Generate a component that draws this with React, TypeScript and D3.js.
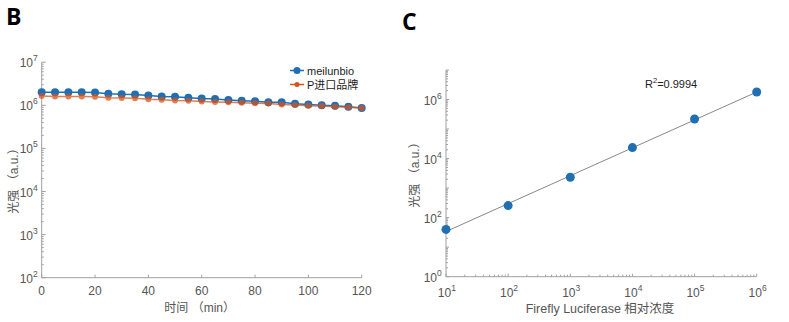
import React from "react";
import * as d3 from "d3";

const times = [0,5,10,15,20,25,30,35,40,45,50,55,60,65,70,75,80,85,90,95,100,105,110,115,120];
const meilunbio = [2.01e6,2.0e6,2.0e6,2.0e6,1.97e6,1.85e6,1.8e6,1.78e6,1.68e6,1.6e6,1.58e6,1.5e6,1.43e6,1.4e6,1.33e6,1.28e6,1.24e6,1.17e6,1.17e6,1.09e6,1.05e6,1.0e6,0.97e6,0.93e6,0.87e6];
const imported = [1.65e6,1.6e6,1.6e6,1.6e6,1.58e6,1.5e6,1.48e6,1.46e6,1.38e6,1.35e6,1.3e6,1.28e6,1.22e6,1.2e6,1.17e6,1.15e6,1.12e6,1.1e6,1.05e6,1.02e6,0.98e6,0.96e6,0.92e6,0.9e6,0.86e6];
const seriesNames = ["meilunbio", "P进口品牌"];
const timeTicks = [0,20,40,60,80,100,120];
const leftYExps = [2,3,4,5,6,7];

const conc = [1e1,1e2,1e3,1e4,1e5,1e6];
const lightC = [40,256,2340,23600,2.2e5,1.8e6];
const rightXExps = [1,2,3,4,5,6];
const rightYExps = [0,2,4,6];
const r2Label = "R";
const r2Value = "=0.9994";

const BLUE = "#1f6fb2";
const ORANGE = "#d95319";
const AXIS = "#a0a0a0";
const TXT = "#555";
const LATIN = "'Liberation Sans', Arial, sans-serif";
const CJK = "'Liberation Sans', 'Noto Sans CJK SC', sans-serif";

function minorValues(lo: number, hi: number) {
  const out: number[] = [];
  for (let e = lo; e < hi; e++) for (let m = 2; m <= 9; m++) out.push(m * Math.pow(10, e));
  return out;
}

function Pow({ x, y, exp, anchor }: { x: number; y: number; exp: number; anchor: "end" | "middle" }) {
  const baseW = 13.3;
  const supW = 5;
  let bx = x;
  if (anchor === "end") bx = x - supW - baseW;
  else bx = x - (baseW + supW) / 2;
  return (
    <text x={bx} y={y} fontFamily={LATIN} fontSize={12} fill={TXT}>
      10<tspan dy={-6} fontSize={8.5}>{exp}</tspan>
    </text>
  );
}

export default function App() {
  const lx = d3.scaleLinear().domain([0, 120]).range([41.7, 361.7]);
  const ly = d3.scaleLog().domain([1e2, 1e7]).range([277.7, 62.2]);
  const lineL = d3.line<number>().x((_, i) => lx(times[i])).y((d) => ly(d));

  const rx = d3.scaleLog().domain([1e1, 1e6]).range([446, 756.7]);
  const ry = d3.scaleLog().domain([1, 1e7]).range([276.7, 70]);
  const lxs = conc.map(Math.log10);
  const lys = lightC.map(Math.log10);
  const mx = d3.mean(lxs)!;
  const my = d3.mean(lys)!;
  const slope = d3.sum(lxs.map((v, i) => (v - mx) * (lys[i] - my))) / d3.sum(lxs.map((v) => (v - mx) ** 2));
  const inter = my - slope * mx;
  const fit = (x: number) => Math.pow(10, inter + slope * Math.log10(x));

  return (
    <svg width={789} height={322} style={{ position: "absolute", left: 0, top: 0, background: "#fff" }}>
      <rect width={789} height={322} fill="#fff" />
      <text x={6} y={25} fontFamily="'Open Sans', 'Liberation Sans', sans-serif" fontWeight="bold" fontSize={23} fill="#000">B</text>
      <text x={402} y={30} fontFamily="'Open Sans', 'Liberation Sans', sans-serif" fontWeight="bold" fontSize={23} fill="#000">C</text>

      <g>
        <line x1={lx(0)} x2={lx(0)} y1={ly(1e7)} y2={ly(1e2)} stroke={AXIS} strokeWidth={1} />
        <line x1={lx(0)} x2={lx(120)} y1={ly(1e2)} y2={ly(1e2)} stroke={AXIS} strokeWidth={1} />
        {leftYExps.map((e) => (
          <g key={"ly" + e}>
            <line x1={lx(0)} x2={lx(0) + 4} y1={ly(10 ** e)} y2={ly(10 ** e)} stroke={AXIS} />
            <Pow x={38} y={ly(10 ** e) + 5} exp={e} anchor="end" />
          </g>
        ))}
        {minorValues(2, 7).map((v, i) => (
          <line key={"lm" + i} x1={lx(0)} x2={lx(0) + 2} y1={ly(v)} y2={ly(v)} stroke={AXIS} />
        ))}
        {timeTicks.map((t) => (
          <g key={"lt" + t}>
            <line x1={lx(t)} x2={lx(t)} y1={ly(1e2)} y2={ly(1e2) - 3} stroke={AXIS} />
            <text x={lx(t)} y={295} textAnchor="middle" fontFamily={LATIN} fontSize={12} fill={TXT}>{t}</text>
          </g>
        ))}
        <text x={lx(60) - 2} y={312} textAnchor="middle" fontFamily={CJK} fontSize={12} fill={TXT}>时间 （min）</text>
        <text transform={`translate(18,178) rotate(-90)`} textAnchor="middle" fontFamily={CJK} fontSize={12} fill={TXT}>光强 （a.u.）</text>

        <path d={lineL(meilunbio) || ""} fill="none" stroke={BLUE} strokeWidth={1.5} />
        {meilunbio.map((v, i) => (
          <circle key={"bm" + i} cx={lx(times[i])} cy={ly(v)} r={4} fill={BLUE} />
        ))}
        <g opacity={0.75}>
          <path d={lineL(imported) || ""} fill="none" stroke={ORANGE} strokeWidth={1.5} />
          {imported.map((v, i) => (
            <circle key={"om" + i} cx={lx(times[i])} cy={ly(v)} r={3} fill={ORANGE} />
          ))}
        </g>

        <line x1={290} x2={304} y1={70.5} y2={70.5} stroke={BLUE} strokeWidth={1.5} />
        <circle cx={297} cy={70.5} r={3.5} fill={BLUE} />
        <text x={307} y={74.5} fontFamily={LATIN} fontSize={11} fill="#222">{seriesNames[0]}</text>
        <line x1={290} x2={304} y1={84.5} y2={84.5} stroke={ORANGE} strokeWidth={1.5} />
        <circle cx={297} cy={84.5} r={2.5} fill={ORANGE} />
        <text x={307} y={88.5} fontFamily={CJK} fontSize={11} fill="#222">{seriesNames[1]}</text>
      </g>

      <g>
        <line x1={rx(10)} x2={rx(10)} y1={ry(1e7)} y2={ry(1)} stroke={AXIS} strokeWidth={1} />
        <line x1={rx(10)} x2={rx(1e6)} y1={ry(1)} y2={ry(1)} stroke={AXIS} strokeWidth={1} />
        {d3.range(0, 8).map((e) => (
          <line key={"rym" + e} x1={rx(10)} x2={rx(10) + 3} y1={ry(10 ** e)} y2={ry(10 ** e)} stroke={AXIS} />
        ))}
        {minorValues(0, 7).map((v, i) => (
          <line key={"rymn" + i} x1={rx(10)} x2={rx(10) + 2} y1={ry(v)} y2={ry(v)} stroke={AXIS} />
        ))}
        {rightYExps.map((e) => (
          <Pow key={"ryl" + e} x={442} y={ry(10 ** e) + 5} exp={e} anchor="end" />
        ))}
        {rightXExps.map((e) => (
          <g key={"rx" + e}>
            <line x1={rx(10 ** e)} x2={rx(10 ** e)} y1={ry(1)} y2={ry(1) - 3} stroke={AXIS} />
            <Pow x={rx(10 ** e) + 1} y={297} exp={e} anchor="middle" />
          </g>
        ))}
        {minorValues(1, 6).map((v, i) => (
          <line key={"rxm" + i} x1={rx(v)} x2={rx(v)} y1={ry(1)} y2={ry(1) - 2} stroke={AXIS} />
        ))}
        <text x={600} y={313} textAnchor="middle" fontFamily={CJK} fontSize={12.5} fill={TXT}>Firefly Luciferase 相对浓度</text>
        <text transform={`translate(419,172) rotate(-90)`} textAnchor="middle" fontFamily={CJK} fontSize={12} fill={TXT}>光强 （a.u.）</text>

        <line x1={rx(10)} y1={ry(fit(10))} x2={rx(1e6)} y2={ry(fit(1e6))} stroke="#888" strokeWidth={1} />
        {conc.map((c, i) => (
          <circle key={"rc" + i} cx={rx(c)} cy={ry(lightC[i])} r={4.5} fill={BLUE} />
        ))}
        <text x={645} y={88} fontFamily={LATIN} fontSize={11} fill="#222">
          {r2Label}<tspan dy={-5} fontSize={7.5}>2</tspan><tspan dy={5}>{r2Value}</tspan>
        </text>
      </g>
    </svg>
  );
}
